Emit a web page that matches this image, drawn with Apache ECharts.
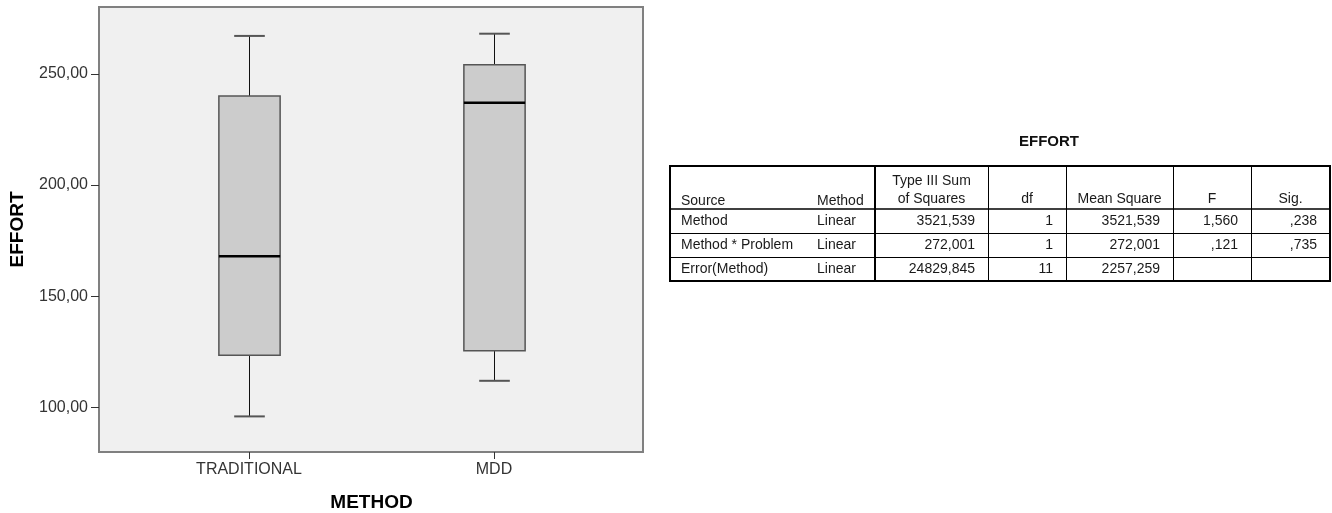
<!DOCTYPE html>
<html>
<head>
<meta charset="utf-8">
<script src="https://cdn.jsdelivr.net/npm/echarts@6/dist/echarts.min.js"></script>
<style>
html,body{margin:0;padding:0;background:#fff;}
#chart{width:1332px;height:513px;}
</style>
</head>
<body>
<div id="chart"></div>
<script>
// ---- Box plot data ----
const categories = ['TRADITIONAL', 'MDD'];
const whiskerLow = [96, 112];
const q1Values = [123.5, 125.5];
const medianValues = [168, 237];
const q3Values = [240, 254];
const whiskerHigh = [267, 268];
const yTicks = [100, 150, 200, 250];
const yMin = 80, yMax = 280;

// ---- Table data ----
const tableTitle = 'EFFORT';
const headerTop = ['', '', 'Type III Sum', '', '', '', ''];
const headerBottom = ['Source', 'Method', 'of Squares', 'df', 'Mean Square', 'F', 'Sig.'];
const tableSources = ['Method', 'Method * Problem', 'Error(Method)'];
const tableMethod = ['Linear', 'Linear', 'Linear'];
const sumSquares = ['3521,539', '272,001', '24829,845'];
const dfValues = ['1', '1', '11'];
const meanSquares = ['3521,539', '272,001', '2257,259'];
const fValues = ['1,560', ',121', ''];
const sigValues = [',238', ',735', ''];

const boxData = categories.map((c, i) => [i, whiskerLow[i], q1Values[i], medianValues[i], q3Values[i], whiskerHigh[i]]);

const FONT = '"Liberation Sans", Arial, Helvetica, sans-serif';

function renderBox(params, api) {
  const idx = api.value(0);
  const low = api.coord([idx, api.value(1)]);
  const q1 = api.coord([idx, api.value(2)]);
  const med = api.coord([idx, api.value(3)]);
  const q3 = api.coord([idx, api.value(4)]);
  const high = api.coord([idx, api.value(5)]);
  const band = api.size([1, 0])[0];
  const bw = band * 0.25;
  const cw = bw * 0.5;
  const cx = Math.round(low[0]) + 0.5;
  const bl = cx - bw / 2, br = cx + bw / 2;
  return {
    type: 'group',
    children: [
      {type: 'line', shape: {x1: cx, y1: high[1], x2: cx, y2: q3[1]}, style: {stroke: '#111', lineWidth: 1}},
      {type: 'line', shape: {x1: cx, y1: q1[1], x2: cx, y2: low[1]}, style: {stroke: '#111', lineWidth: 1}},
      {type: 'line', shape: {x1: cx - cw / 2, y1: high[1], x2: cx + cw / 2, y2: high[1]}, style: {stroke: '#555', lineWidth: 2}},
      {type: 'line', shape: {x1: cx - cw / 2, y1: low[1], x2: cx + cw / 2, y2: low[1]}, style: {stroke: '#555', lineWidth: 2}},
      {type: 'rect', shape: {x: bl, y: q3[1], width: bw, height: q1[1] - q3[1]}, style: {fill: '#cccccc', stroke: '#555', lineWidth: 1.5}},
      {type: 'line', shape: {x1: bl, y1: med[1], x2: br, y2: med[1]}, style: {stroke: '#000', lineWidth: 2.5}}
    ]
  };
}

// ---- Table graphics ----
const cols = [670, 875, 988, 1066, 1173, 1251, 1330];
const tTop = 166, tHead = 209;
const rowLines = [209, 233, 257.5, 281];
const rowCenters = [221, 245.5, 269.5];
const g = [];
const txtStyle = (text, x, y, align) => ({
  type: 'text', x: x, y: y,
  style: {text: text, font: '14px ' + FONT, fill: '#1a1a1a', align: align, verticalAlign: 'middle'}
});
g.push({type: 'text', x: 1049, y: 142, style: {text: tableTitle, font: 'bold 15px ' + FONT, fill: '#111', align: 'center', verticalAlign: 'middle'}});
g.push({type: 'rect', shape: {x: cols[0], y: tTop, width: cols[6] - cols[0], height: 281 - tTop}, style: {fill: '#fff', stroke: '#000', lineWidth: 2}});
for (let i = 2; i <= 5; i++) {
  g.push({type: 'line', shape: {x1: cols[i] + 0.5, y1: tTop, x2: cols[i] + 0.5, y2: 281}, style: {stroke: '#000', lineWidth: 1}});
}
g.push({type: 'line', shape: {x1: cols[1], y1: tTop, x2: cols[1], y2: 281}, style: {stroke: '#000', lineWidth: 2}});
g.push({type: 'line', shape: {x1: cols[0], y1: tHead, x2: cols[6], y2: tHead}, style: {stroke: '#000', lineWidth: 1.5}});
g.push({type: 'line', shape: {x1: cols[0], y1: rowLines[1] + 0.5, x2: cols[6], y2: rowLines[1] + 0.5}, style: {stroke: '#000', lineWidth: 1}});
g.push({type: 'line', shape: {x1: cols[0], y1: rowLines[2], x2: cols[6], y2: rowLines[2]}, style: {stroke: '#000', lineWidth: 1}});
// headers
g.push(txtStyle(headerBottom[0], 681, 201, 'left'));
g.push(txtStyle(headerBottom[1], 817, 201, 'left'));
g.push(txtStyle(headerTop[2], (cols[1] + cols[2]) / 2, 181, 'center'));
for (let i = 2; i <= 6; i++) {
  g.push(txtStyle(headerBottom[i], (cols[i - 1] + cols[i]) / 2, 199, 'center'));
}
// rows
const numCols = [sumSquares, dfValues, meanSquares, fValues, sigValues];
for (let r = 0; r < tableSources.length; r++) {
  g.push(txtStyle(tableSources[r], 681, rowCenters[r], 'left'));
  g.push(txtStyle(tableMethod[r], 817, rowCenters[r], 'left'));
  numCols.forEach((arr, k) => {
    if (arr[r]) g.push(txtStyle(arr[r], cols[k + 2] - 13, rowCenters[r], 'right'));
  });
}

const chart = echarts.init(document.getElementById('chart'), null, {renderer: 'canvas'});
chart.setOption({
  animation: false,
  backgroundColor: '#fff',
  grid: [
    {left: 99, top: 7, width: 544, height: 445, show: true, backgroundColor: '#f0f0f0', borderColor: '#808080', borderWidth: 2, containLabel: false, outerBoundsMode: 'none'},
    {left: 126.5, top: 7, width: 490, height: 445, show: false, containLabel: false, outerBoundsMode: 'none'}
  ],
  xAxis: [
    {type: 'value', gridIndex: 0, show: false, min: 0, max: 1},
    {
      type: 'category', gridIndex: 1, data: categories, position: 'bottom',
      axisLine: {show: false},
      axisTick: {show: true, alignWithLabel: true, length: 7, lineStyle: {color: '#333'}},
      axisLabel: {fontSize: 16, fontFamily: FONT, color: '#333', margin: 10},
      splitLine: {show: false},
      name: 'METHOD', nameLocation: 'middle', nameGap: 41,
      nameTextStyle: {fontSize: 19, fontWeight: 'bold', fontFamily: FONT, color: '#000'}
    }
  ],
  yAxis: [
    {
      type: 'value', gridIndex: 0, min: yMin, max: yMax,
      axisLine: {show: false},
      axisTick: {show: true, length: 8, customValues: yTicks, lineStyle: {color: '#333'}},
      axisLabel: {customValues: yTicks, fontSize: 16, fontFamily: FONT, color: '#333', margin: 11,
        formatter: v => v.toFixed(2).replace('.', ',')},
      splitLine: {show: false},
      name: 'EFFORT', nameLocation: 'middle', nameGap: 72, nameRotate: 90,
      nameTextStyle: {fontSize: 19, fontWeight: 'bold', fontFamily: FONT, color: '#000'}
    },
    {type: 'value', gridIndex: 1, min: yMin, max: yMax, show: false}
  ],
  series: [{
    type: 'custom', xAxisIndex: 1, yAxisIndex: 1,
    renderItem: renderBox,
    encode: {x: 0, y: [1, 2, 3, 4, 5]},
    data: boxData
  }],
  graphic: g
});
</script>
</body>
</html>
